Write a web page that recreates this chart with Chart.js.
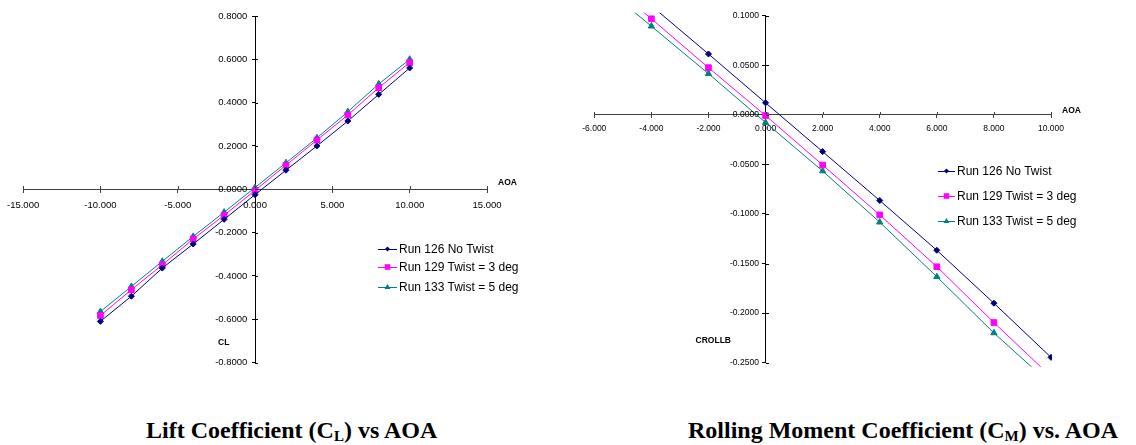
<!DOCTYPE html>
<html><head><meta charset="utf-8">
<script src="https://cdn.jsdelivr.net/npm/chart.js@4.4.1/dist/chart.umd.min.js"></script>
<style>
html,body{margin:0;padding:0;background:#fff;width:1136px;height:445px;overflow:hidden;position:relative;font-family:"Liberation Sans",Arial,sans-serif;}
canvas{position:absolute;top:0;}
#cL{left:0px}
#cR{left:560px}
.legend{position:absolute;top:0;font-size:12px;color:#000;}
.legend .row{position:absolute;left:0;height:16px;display:flex;align-items:center;white-space:nowrap;}
.legend svg{display:block;margin-right:2px;}
.title{position:absolute;font-family:"Liberation Serif","Times New Roman",serif;font-weight:bold;font-size:24px;line-height:24px;white-space:nowrap;color:#000;}
.title sub{font-size:15px;vertical-align:-3px;line-height:0;}
</style></head>
<body>
<canvas id="cL" width="560" height="400"></canvas>
<canvas id="cR" width="576" height="400"></canvas>
<div class="legend" id="legL" style="left:378px"></div>
<div class="legend" id="legR" style="left:938px"></div>
<div class="title" style="left:146px;top:418px">Lift Coefficient (C<sub>L</sub>) vs AOA</div>
<div class="title" style="left:688px;top:418px">Rolling Moment Coefficient (C<sub>M</sub>) vs. AOA</div>
<script>
// ---- data ----
const seriesNames = ['Run 126 No Twist', 'Run 129 Twist = 3 deg', 'Run 133 Twist = 5 deg'];

// Lift coefficient chart
const aoaLift = [-10, -8, -6, -4, -2, 0, 2, 4, 6, 8, 10];
const clRun126 = [-0.610, -0.494, -0.364, -0.253, -0.139, -0.025, 0.088, 0.200, 0.315, 0.438, 0.560];
const clRun129 = [-0.583, -0.464, -0.349, -0.230, -0.120, -0.005, 0.111, 0.227, 0.343, 0.469, 0.585];
const clRun133 = [-0.565, -0.449, -0.333, -0.218, -0.106, 0.008, 0.122, 0.237, 0.358, 0.486, 0.600];
const liftXTicks = [-15, -10, -5, 0, 5, 10, 15];
const liftYTicks = [-0.8, -0.6, -0.4, -0.2, 0, 0.2, 0.4, 0.6, 0.8];

// Rolling moment chart
const aoaRoll = [-6, -4, -2, 0, 2, 4, 6, 8, 10];
const crRun126 = [0.160, 0.110, 0.0614, 0.0121, -0.0371, -0.0864, -0.1366, -0.1900, -0.2446];
const crRun129 = [0.146, 0.0969, 0.0476, -0.0007, -0.0506, -0.1009, -0.1532, -0.2095, -0.2640];
const crRun133 = [0.137, 0.0894, 0.0415, -0.0078, -0.0567, -0.1083, -0.1633, -0.2200, -0.2720];
const rollXTicks = [-6, -4, -2, 0, 2, 4, 6, 8, 10];
const rollYTicks = [-0.25, -0.2, -0.15, -0.1, -0.05, 0, 0.05, 0.1];

// ---- style ----
const seriesColors = ['#000080', '#FF00FF', '#008080'];
const seriesMarkers = ['rectRot', 'rect', 'triangle'];
const markerRadius = [3, 4, 3.6];
const SANS = '"Liberation Sans", Arial, sans-serif';

const axisDecor = {
  id: 'axisDecor',
  afterDraw(chart, args, o) {
    const {ctx, chartArea} = chart;
    const xs = chart.scales.x, ys = chart.scales.y;
    const x0 = xs.getPixelForValue(0), y0 = ys.getPixelForValue(0);
    ctx.save();
    ctx.lineWidth = 1;
    // inner half of the crossing tick marks
    ctx.strokeStyle = o.xColor;
    xs.ticks.forEach(t => {
      const px = Math.round(xs.getPixelForValue(t.value)) + 0.5;
      ctx.beginPath(); ctx.moveTo(px, Math.round(y0) - 3); ctx.lineTo(px, Math.round(y0)); ctx.stroke();
    });
    ctx.strokeStyle = o.yColor;
    ys.ticks.forEach(t => {
      const py = Math.round(ys.getPixelForValue(t.value)) + 0.5;
      ctx.beginPath(); ctx.moveTo(Math.round(x0), py); ctx.lineTo(Math.round(x0) + 3, py); ctx.stroke();
    });
    // y tick labels (left of the centred axis)
    ctx.fillStyle = '#000';
    ctx.font = o.tickSize + 'px ' + SANS;
    ctx.textAlign = 'right';
    ctx.textBaseline = 'middle';
    ys.ticks.forEach(t => {
      ctx.fillText(Number(t.value).toFixed(o.yDec), x0 - o.yGap, ys.getPixelForValue(t.value));
    });
    // axis titles
    ctx.font = 'bold ' + o.titleSize + 'px ' + SANS;
    ctx.textAlign = 'left';
    ctx.fillText(o.xTitle, chartArea.right + o.xTitleDx, y0 + o.xTitleDy);
    ctx.fillText(o.yTitle, x0 + o.yTitleDx, chartArea.bottom + o.yTitleDy);
    ctx.restore();
  }
};

function makeChart(id, xVals, series, xTicks, yTicks, cfg) {
  const datasets = series.map((vals, i) => ({
    label: seriesNames[i],
    data: xVals.map((x, k) => ({x: x, y: vals[k]})),
    borderColor: seriesColors[i],
    backgroundColor: seriesColors[i],
    pointBackgroundColor: seriesColors[i],
    pointBorderColor: seriesColors[i],
    pointStyle: seriesMarkers[i],
    pointRadius: markerRadius[i],
    pointBorderWidth: 1,
    borderWidth: 1,
    tension: 0,
    fill: false,
    clip: cfg.clip
  }));
  return new Chart(document.getElementById(id), {
    type: 'line',
    data: {datasets},
    plugins: [axisDecor],
    options: {
      responsive: false,
      animation: false,
      devicePixelRatio: 1,
      layout: {padding: cfg.padding},
      plugins: {
        legend: {display: false},
        tooltip: {enabled: false},
        axisDecor: cfg.decor
      },
      scales: {
        x: {
          type: 'linear', min: xTicks[0], max: xTicks[xTicks.length - 1],
          position: {y: 0},
          afterBuildTicks: s => { s.ticks = xTicks.map(v => ({value: v})); },
          ticks: {autoSkip: false, maxRotation: 0, color: '#000', padding: cfg.xPad,
                  font: {family: SANS, size: cfg.decor.tickSize},
                  callback: v => Number(v).toFixed(cfg.xDec)},
          grid: {drawOnChartArea: false, drawTicks: true, tickLength: 3, color: cfg.decor.xColor},
          border: {display: true, color: cfg.decor.xColor, width: 1}
        },
        y: {
          type: 'linear', min: yTicks[0], max: yTicks[yTicks.length - 1],
          position: {x: 0},
          afterBuildTicks: s => { s.ticks = yTicks.map(v => ({value: v})); },
          ticks: {display: false, autoSkip: false},
          grid: {drawOnChartArea: false, drawTicks: true, tickLength: 3, color: cfg.decor.yColor},
          border: {display: true, color: cfg.decor.yColor, width: 1}
        }
      }
    }
  });
}

makeChart('cL', aoaLift, [clRun126, clRun129, clRun133], liftXTicks, liftYTicks, {
  padding: {left: 23, right: 73, top: 16, bottom: 37.5},
  xPad: 7, xDec: 3, clip: 2,
  decor: {xColor: '#404040', yColor: '#000', tickSize: 9.5, yDec: 4, yGap: 7.7, titleSize: 8.5,
          xTitle: 'AOA', xTitleDx: 11, xTitleDy: -6.5,
          yTitle: 'CL', yTitleDx: -37, yTitleDy: -20}
});
makeChart('cR', aoaRoll, [crRun126, crRun129, crRun133], rollXTicks, rollYTicks, {
  padding: {left: 34.3, right: 85, top: 15.7, bottom: 37.3},
  xPad: 6, xDec: 3, clip: {left: 0, top: 3, right: 1, bottom: 4},
  decor: {xColor: '#404040', yColor: '#000', tickSize: 8.5, yDec: 4, yGap: 6.7, titleSize: 8.5,
          xTitle: 'AOA', xTitleDx: 11, xTitleDy: -4,
          yTitle: 'CROLLB', yTitleDx: -70, yTitleDy: -22}
});

// ---- HTML legends ----
function markerSvg(i, w, r) {
  const c = seriesColors[i], cx = w / 2, cy = 8;
  let m;
  if (seriesMarkers[i] === 'rectRot') m = `<polygon points="${cx},${cy - r} ${cx + r},${cy} ${cx},${cy + r} ${cx - r},${cy}" fill="${c}"/>`;
  else if (seriesMarkers[i] === 'rect') m = `<rect x="${cx - r}" y="${cy - r}" width="${2 * r}" height="${2 * r}" fill="${c}"/>`;
  else m = `<polygon points="${cx},${cy - r} ${cx + r},${cy + r * 0.7} ${cx - r},${cy + r * 0.7}" fill="${c}"/>`;
  return `<svg width="${w}" height="16" viewBox="0 0 ${w} 16"><line x1="0" y1="8.5" x2="${w}" y2="8.5" stroke="${c}" stroke-width="1"/>${m}</svg>`;
}
function buildLegend(id, centers, w, radii) {
  const el = document.getElementById(id);
  seriesNames.forEach((name, i) => {
    const row = document.createElement('div');
    row.className = 'row';
    row.style.top = (centers[i] - 8) + 'px';
    row.innerHTML = markerSvg(i, w, radii[i]);
    const span = document.createElement('span');
    span.textContent = name;
    row.appendChild(span);
    el.appendChild(row);
  });
}
buildLegend('legL', [248.7, 267.3, 286.7], 19, [2.5, 2.8, 3]);
buildLegend('legR', [170.7, 195.7, 220.7], 17, [2.5, 2.8, 3]);
</script>
</body></html>
